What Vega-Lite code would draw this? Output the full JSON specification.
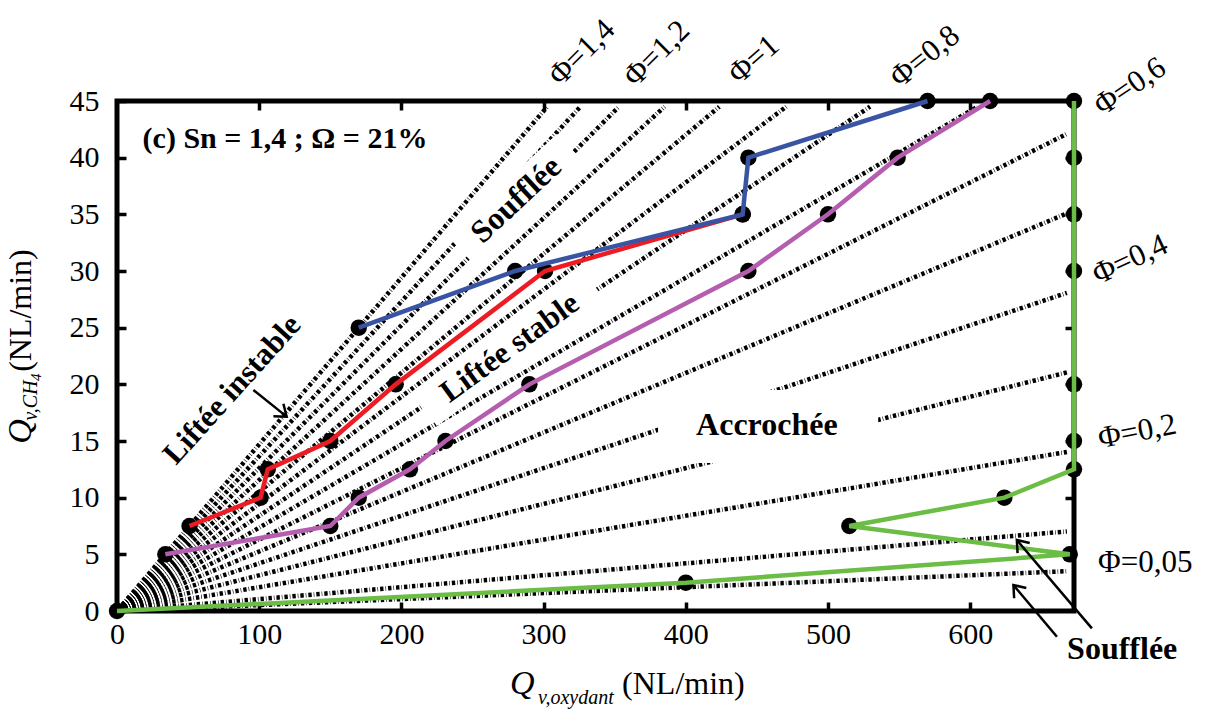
{
  "$schema": "https://vega.github.io/schema/vega-lite/v6.json",
  "width": 957,
  "height": 510,
  "autosize": {"type": "none"},
  "padding": {"left": 117, "top": 101, "right": 131, "bottom": 100},
  "background": "white",
  "config": {
    "view": {"stroke": "black", "strokeWidth": 5, "fill": "white"},
    "axis": {
      "labelFont": "Liberation Serif",
      "labelFontSize": 30,
      "labelColor": "black",
      "tickColor": "black",
      "tickWidth": 3.5,
      "tickSize": -9,
      "domain": false,
      "grid": false,
      "labelFlush": false
    },
    "text": {"font": "Liberation Serif", "color": "black"}
  },
  "datasets": {
    "rays": [
      {"phi": 0.05, "x": 0, "y": 0}, {"phi": 0.05, "x": 668, "y": 3.51},
      {"phi": 0.1, "x": 0, "y": 0}, {"phi": 0.1, "x": 668, "y": 7.02},
      {"phi": 0.2, "x": 0, "y": 0}, {"phi": 0.2, "x": 668, "y": 14.03},
      {"phi": 0.3, "x": 0, "y": 0}, {"phi": 0.3, "x": 668, "y": 21.05},
      {"phi": 0.4, "x": 0, "y": 0}, {"phi": 0.4, "x": 668, "y": 28.07},
      {"phi": 0.5, "x": 0, "y": 0}, {"phi": 0.5, "x": 668, "y": 35.08},
      {"phi": 0.6, "x": 0, "y": 0}, {"phi": 0.6, "x": 668, "y": 42.1},
      {"phi": 0.7, "x": 0, "y": 0}, {"phi": 0.7, "x": 605.2, "y": 44.5},
      {"phi": 0.8, "x": 0, "y": 0}, {"phi": 0.8, "x": 529.6, "y": 44.5},
      {"phi": 0.9, "x": 0, "y": 0}, {"phi": 0.9, "x": 470.7, "y": 44.5},
      {"phi": 1.0, "x": 0, "y": 0}, {"phi": 1.0, "x": 423.6, "y": 44.5},
      {"phi": 1.1, "x": 0, "y": 0}, {"phi": 1.1, "x": 385.1, "y": 44.5},
      {"phi": 1.2, "x": 0, "y": 0}, {"phi": 1.2, "x": 353.0, "y": 44.5},
      {"phi": 1.3, "x": 0, "y": 0}, {"phi": 1.3, "x": 325.9, "y": 44.5},
      {"phi": 1.4, "x": 0, "y": 0}, {"phi": 1.4, "x": 302.6, "y": 44.5}
    ],
    "flames": [
      {"s": "red", "x": 51, "y": 7.5}, {"s": "red", "x": 101, "y": 10}, {"s": "red", "x": 106, "y": 12.5},
      {"s": "red", "x": 150, "y": 15}, {"s": "red", "x": 196, "y": 20}, {"s": "red", "x": 301, "y": 30},
      {"s": "red", "x": 440, "y": 35},
      {"s": "blue", "x": 170, "y": 25}, {"s": "blue", "x": 280, "y": 30}, {"s": "blue", "x": 440, "y": 35},
      {"s": "blue", "x": 444, "y": 40}, {"s": "blue", "x": 570, "y": 45},
      {"s": "magenta", "x": 34, "y": 5}, {"s": "magenta", "x": 150, "y": 7.5}, {"s": "magenta", "x": 170, "y": 10},
      {"s": "magenta", "x": 206, "y": 12.5}, {"s": "magenta", "x": 231, "y": 15}, {"s": "magenta", "x": 290, "y": 20},
      {"s": "magenta", "x": 444, "y": 30}, {"s": "magenta", "x": 500, "y": 35}, {"s": "magenta", "x": 549, "y": 40},
      {"s": "magenta", "x": 614, "y": 45},
      {"s": "green", "x": 0, "y": 0}, {"s": "green", "x": 400, "y": 2.5}, {"s": "green", "x": 670, "y": 5},
      {"s": "green", "x": 515, "y": 7.5}, {"s": "green", "x": 624, "y": 10}, {"s": "green", "x": 673, "y": 12.5},
      {"s": "green", "x": 673, "y": 15}, {"s": "green", "x": 673, "y": 20}, {"s": "green", "x": 673, "y": 30},
      {"s": "green", "x": 673, "y": 35}, {"s": "green", "x": 673, "y": 40}, {"s": "green", "x": 673, "y": 45}
    ],
    "arrows": [
      {"a": "instable", "x": 95.9, "y": 19.5, "x2": 119.3, "y2": 17.15},
      {"a": "souffleeA", "x": 685.6, "y": -1.53, "x2": 632.8, "y2": 6.27},
      {"a": "souffleeB", "x": 661.0, "y": -2.27, "x2": 630.4, "y2": 2.29}
    ],
    "philabels": [
      {"label": "Φ=1,4", "x": 327.1, "y": 49.25},
      {"label": "Φ=1,2", "x": 379.8, "y": 49.16},
      {"label": "Φ=1", "x": 448.0, "y": 48.63},
      {"label": "Φ=0,8", "x": 568.3, "y": 48.9},
      {"label": "Φ=0,6", "x": 712.5, "y": 46.25},
      {"label": "Φ=0,4", "x": 712.5, "y": 30.98},
      {"label": "Φ=0,2", "x": 717.5, "y": 15.8},
      {"label": "Φ=0,05", "x": 723.1, "y": 4.24}
    ]
  },
  "resolve": {"axis": {"x": "independent", "y": "independent"}},
  "layer": [
    {
      "data": {"name": "rays"},
      "mark": {"type": "line", "stroke": "black", "strokeWidth": 4.5, "strokeDash": [3.4, 2.0, 0.6, 2.0], "strokeCap": "butt"},
      "encoding": {
        "x": {"field": "x", "type": "quantitative", "title": null,
              "scale": {"domain": [0, 673], "nice": false, "zero": false},
              "axis": {"orient": "bottom", "values": [0, 100, 200, 300, 400, 500, 600], "labelPadding": 17, "labelFont": "Liberation Serif", "labelFontSize": 30, "labelFlush": false}},
        "y": {"field": "y", "type": "quantitative", "title": null,
              "scale": {"domain": [0, 45], "nice": false},
              "axis": {"orient": "left", "values": [0, 5, 10, 15, 20, 25, 30, 35, 40, 45], "labelPadding": 27, "labelFont": "Liberation Serif", "labelFontSize": 30, "labelFlush": false}},
        "detail": {"field": "phi"}
      }
    },
    {
      "data": {"values": [{"x": 380.5, "x2": 535.3, "y": 13.06, "y2": 19.5}]},
      "mark": {"type": "rect", "fill": "white"},
      "encoding": {
        "x": {"field": "x", "type": "quantitative", "title": null,
              "axis": {"orient": "top", "values": [100, 200, 300, 400, 500, 600], "labels": false}},
        "x2": {"field": "x2"},
        "y": {"field": "y", "type": "quantitative", "title": null,
              "axis": {"orient": "right", "values": [5, 10, 15, 20, 25, 30, 35, 40], "labels": false}},
        "y2": {"field": "y2"}
      }
    },
    {
      "data": {"values": [{"x": 280.6, "y": 36.3}]},
      "mark": {"type": "point", "shape": "M-1,-0.27L1,-0.27L1,0.27L-1,0.27Z", "filled": true, "fill": "white", "opacity": 1, "strokeWidth": 0, "size": 22500, "angle": 317},
      "encoding": {"x": {"field": "x", "type": "quantitative", "axis": null}, "y": {"field": "y", "type": "quantitative", "axis": null}}
    },
    {
      "data": {"values": [{"x": 81.2, "y": 19.5}]},
      "mark": {"type": "point", "shape": "M-1,-0.18L1,-0.18L1,0.18L-1,0.18Z", "filled": true, "fill": "white", "opacity": 1, "strokeWidth": 0, "size": 50176, "angle": 312},
      "encoding": {"x": {"field": "x", "type": "quantitative", "axis": null}, "y": {"field": "y", "type": "quantitative", "axis": null}}
    },
    {
      "data": {"values": [{"x": 276.4, "y": 23.2}]},
      "mark": {"type": "point", "shape": "M-1,-0.19L1,-0.19L1,0.19L-1,0.19Z", "filled": true, "fill": "white", "opacity": 1, "strokeWidth": 0, "size": 44100, "angle": 324},
      "encoding": {"x": {"field": "x", "type": "quantitative", "axis": null}, "y": {"field": "y", "type": "quantitative", "axis": null}}
    },
    {
      "data": {"name": "flames"},
      "mark": {"type": "circle", "color": "black", "size": 270, "opacity": 1, "clip": false},
      "encoding": {"x": {"field": "x", "type": "quantitative", "axis": null}, "y": {"field": "y", "type": "quantitative", "axis": null}}
    },
    {
      "data": {"name": "flames"},
      "transform": [{"filter": "datum.s === 'green'"}],
      "mark": {"type": "line", "stroke": "#6BBD45", "strokeWidth": 4.5},
      "encoding": {"x": {"field": "x", "type": "quantitative", "axis": null}, "y": {"field": "y", "type": "quantitative", "axis": null}, "order": {"value": null}}
    },
    {
      "data": {"name": "flames"},
      "transform": [{"filter": "datum.s === 'magenta'"}],
      "mark": {"type": "line", "stroke": "#B55DAE", "strokeWidth": 4.5},
      "encoding": {"x": {"field": "x", "type": "quantitative", "axis": null}, "y": {"field": "y", "type": "quantitative", "axis": null}, "order": {"value": null}}
    },
    {
      "data": {"name": "flames"},
      "transform": [{"filter": "datum.s === 'red'"}],
      "mark": {"type": "line", "stroke": "#EC1C24", "strokeWidth": 4.5},
      "encoding": {"x": {"field": "x", "type": "quantitative", "axis": null}, "y": {"field": "y", "type": "quantitative", "axis": null}, "order": {"value": null}}
    },
    {
      "data": {"name": "flames"},
      "transform": [{"filter": "datum.s === 'blue'"}],
      "mark": {"type": "line", "stroke": "#3A54A4", "strokeWidth": 4.5},
      "encoding": {"x": {"field": "x", "type": "quantitative", "axis": null}, "y": {"field": "y", "type": "quantitative", "axis": null}, "order": {"value": null}}
    },
    {
      "data": {"name": "arrows"},
      "mark": {"type": "rule", "stroke": "black", "strokeWidth": 2.5, "clip": false},
      "encoding": {"x": {"field": "x", "type": "quantitative", "axis": null}, "y": {"field": "y", "type": "quantitative", "axis": null}, "x2": {"field": "x2"}, "y2": {"field": "y2"}}
    },
    {
      "data": {"name": "arrows"},
      "transform": [{"filter": "datum.a === 'instable'"}],
      "mark": {"type": "point", "shape": "M-0.6,0.8L0,0L0.6,0.8", "filled": false, "stroke": "black", "strokeWidth": 2.5, "opacity": 1, "size": 700, "angle": 129},
      "encoding": {"x": {"field": "x2", "type": "quantitative", "axis": null}, "y": {"field": "y2", "type": "quantitative", "axis": null}}
    },
    {
      "data": {"name": "arrows"},
      "transform": [{"filter": "datum.a !== 'instable'"}],
      "mark": {"type": "point", "shape": "M-0.6,0.8L0,0L0.6,0.8", "filled": false, "stroke": "black", "strokeWidth": 2.5, "opacity": 1, "size": 700, "angle": 320},
      "encoding": {"x": {"field": "x2", "type": "quantitative", "axis": null}, "y": {"field": "y2", "type": "quantitative", "axis": null}}
    },
    {
      "data": {"values": [{"t": "(c) Sn = 1,4 ; Ω = 21%", "x": 18, "y": 41.66}]},
      "mark": {"type": "text", "fontWeight": "bold", "fontSize": 30, "align": "left", "baseline": "middle"},
      "encoding": {"x": {"field": "x", "type": "quantitative", "axis": null}, "y": {"field": "y", "type": "quantitative", "axis": null}, "text": {"field": "t"}}
    },
    {
      "data": {"values": [{"t": "Soufflée", "x": 280.6, "y": 36.3}]},
      "mark": {"type": "text", "fontWeight": "bold", "fontSize": 32, "align": "center", "baseline": "middle", "angle": 317},
      "encoding": {"x": {"field": "x", "type": "quantitative", "axis": null}, "y": {"field": "y", "type": "quantitative", "axis": null}, "text": {"field": "t"}}
    },
    {
      "data": {"values": [{"t": "Liftée instable", "x": 81.2, "y": 19.5}]},
      "mark": {"type": "text", "fontWeight": "bold", "fontSize": 31, "align": "center", "baseline": "middle", "angle": 312},
      "encoding": {"x": {"field": "x", "type": "quantitative", "axis": null}, "y": {"field": "y", "type": "quantitative", "axis": null}, "text": {"field": "t"}}
    },
    {
      "data": {"values": [{"t": "Liftée stable", "x": 276.4, "y": 23.2}]},
      "mark": {"type": "text", "fontWeight": "bold", "fontSize": 31, "align": "center", "baseline": "middle", "angle": 324},
      "encoding": {"x": {"field": "x", "type": "quantitative", "axis": null}, "y": {"field": "y", "type": "quantitative", "axis": null}, "text": {"field": "t"}}
    },
    {
      "data": {"values": [{"t": "Accrochée", "x": 457, "y": 16.4}, {"t": "Soufflée", "x": 706.9, "y": -3.35}]},
      "mark": {"type": "text", "fontWeight": "bold", "fontSize": 32, "align": "center", "baseline": "middle", "clip": false},
      "encoding": {"x": {"field": "x", "type": "quantitative", "axis": null}, "y": {"field": "y", "type": "quantitative", "axis": null}, "text": {"field": "t"}}
    },
    {
      "data": {"name": "philabels"},
      "transform": [{"filter": "datum.label === 'Φ=1,4' || datum.label === 'Φ=1,2'"}],
      "mark": {"type": "text", "fontSize": 31, "align": "center", "baseline": "middle", "angle": 315},
      "encoding": {"x": {"field": "x", "type": "quantitative", "axis": null}, "y": {"field": "y", "type": "quantitative", "axis": null}, "text": {"field": "label"}}
    },
    {
      "data": {"name": "philabels"},
      "transform": [{"filter": "datum.label === 'Φ=1'"}],
      "mark": {"type": "text", "fontSize": 31, "align": "center", "baseline": "middle", "angle": 319},
      "encoding": {"x": {"field": "x", "type": "quantitative", "axis": null}, "y": {"field": "y", "type": "quantitative", "axis": null}, "text": {"field": "label"}}
    },
    {
      "data": {"name": "philabels"},
      "transform": [{"filter": "datum.label === 'Φ=0,8'"}],
      "mark": {"type": "text", "fontSize": 31, "align": "center", "baseline": "middle", "angle": 321},
      "encoding": {"x": {"field": "x", "type": "quantitative", "axis": null}, "y": {"field": "y", "type": "quantitative", "axis": null}, "text": {"field": "label"}}
    },
    {
      "data": {"name": "philabels"},
      "transform": [{"filter": "datum.label === 'Φ=0,6'"}],
      "mark": {"type": "text", "fontSize": 31, "align": "center", "baseline": "middle", "angle": 326},
      "encoding": {"x": {"field": "x", "type": "quantitative", "axis": null}, "y": {"field": "y", "type": "quantitative", "axis": null}, "text": {"field": "label"}}
    },
    {
      "data": {"name": "philabels"},
      "transform": [{"filter": "datum.label === 'Φ=0,4'"}],
      "mark": {"type": "text", "fontSize": 31, "align": "center", "baseline": "middle", "angle": 335},
      "encoding": {"x": {"field": "x", "type": "quantitative", "axis": null}, "y": {"field": "y", "type": "quantitative", "axis": null}, "text": {"field": "label"}}
    },
    {
      "data": {"name": "philabels"},
      "transform": [{"filter": "datum.label === 'Φ=0,2'"}],
      "mark": {"type": "text", "fontSize": 31, "align": "center", "baseline": "middle", "angle": 349},
      "encoding": {"x": {"field": "x", "type": "quantitative", "axis": null}, "y": {"field": "y", "type": "quantitative", "axis": null}, "text": {"field": "label"}}
    },
    {
      "data": {"name": "philabels"},
      "transform": [{"filter": "datum.label === 'Φ=0,05'"}],
      "mark": {"type": "text", "fontSize": 31, "align": "center", "baseline": "middle", "angle": 0},
      "encoding": {"x": {"field": "x", "type": "quantitative", "axis": null}, "y": {"field": "y", "type": "quantitative", "axis": null}, "text": {"field": "label"}}
    },
    {
      "data": {"values": [{"t": "Q", "x": 276.4, "y": -7.33}]},
      "mark": {"type": "text", "fontStyle": "italic", "fontSize": 34, "align": "left", "baseline": "alphabetic", "clip": false},
      "encoding": {"x": {"field": "x", "type": "quantitative", "axis": null}, "y": {"field": "y", "type": "quantitative", "axis": null}, "text": {"field": "t"}}
    },
    {
      "data": {"values": [{"t": "v,oxydant", "x": 296.1, "y": -8.21}]},
      "mark": {"type": "text", "fontStyle": "italic", "fontSize": 20, "align": "left", "baseline": "alphabetic", "clip": false},
      "encoding": {"x": {"field": "x", "type": "quantitative", "axis": null}, "y": {"field": "y", "type": "quantitative", "axis": null}, "text": {"field": "t"}}
    },
    {
      "data": {"values": [{"t": "(NL/min)", "x": 355.2, "y": -7.33}]},
      "mark": {"type": "text", "fontSize": 32, "align": "left", "baseline": "alphabetic", "clip": false},
      "encoding": {"x": {"field": "x", "type": "quantitative", "axis": null}, "y": {"field": "y", "type": "quantitative", "axis": null}, "text": {"field": "t"}}
    },
    {
      "data": {"values": [{"t": "Q", "x": -60.5, "y": 14.75}]},
      "mark": {"type": "text", "fontStyle": "italic", "fontSize": 34, "align": "left", "baseline": "alphabetic", "angle": 270, "clip": false},
      "encoding": {"x": {"field": "x", "type": "quantitative", "axis": null}, "y": {"field": "y", "type": "quantitative", "axis": null}, "text": {"field": "t"}}
    },
    {
      "data": {"values": [{"t": "v,CH", "x": -56.3, "y": 16.8}]},
      "mark": {"type": "text", "fontStyle": "italic", "fontSize": 20, "align": "left", "baseline": "alphabetic", "angle": 270, "clip": false},
      "encoding": {"x": {"field": "x", "type": "quantitative", "axis": null}, "y": {"field": "y", "type": "quantitative", "axis": null}, "text": {"field": "t"}}
    },
    {
      "data": {"values": [{"t": "4", "x": -53.5, "y": 20.3}]},
      "mark": {"type": "text", "fontStyle": "italic", "fontSize": 15, "align": "left", "baseline": "alphabetic", "angle": 270, "clip": false},
      "encoding": {"x": {"field": "x", "type": "quantitative", "axis": null}, "y": {"field": "y", "type": "quantitative", "axis": null}, "text": {"field": "t"}}
    },
    {
      "data": {"values": [{"t": "(NL/min)", "x": -60.5, "y": 21.1}]},
      "mark": {"type": "text", "fontSize": 32, "align": "left", "baseline": "alphabetic", "angle": 270, "clip": false},
      "encoding": {"x": {"field": "x", "type": "quantitative", "axis": null}, "y": {"field": "y", "type": "quantitative", "axis": null}, "text": {"field": "t"}}
    }
  ]
}
